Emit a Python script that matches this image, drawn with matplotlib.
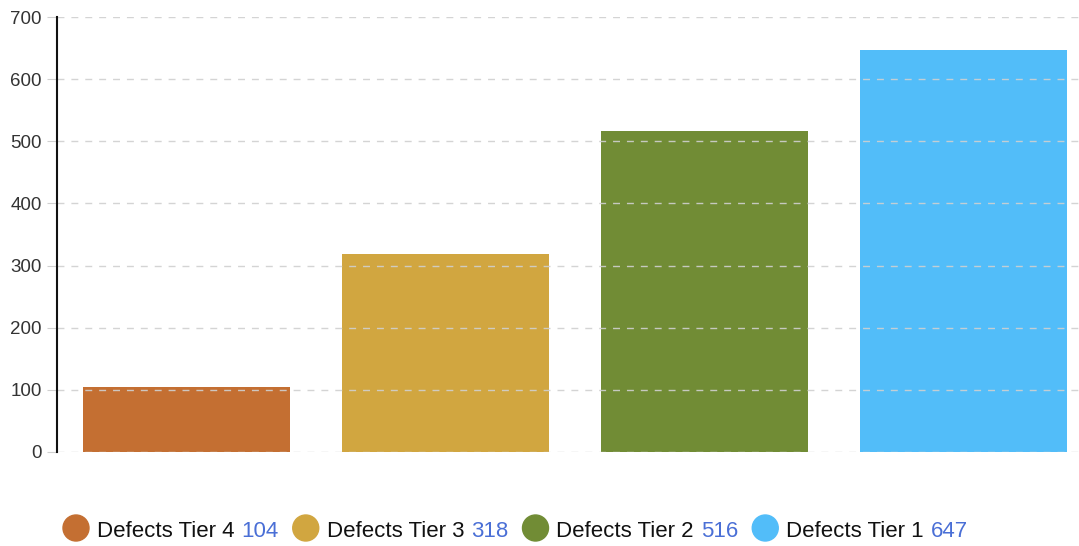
import matplotlib
matplotlib.use("Agg")
import matplotlib.pyplot as plt
from matplotlib.patches import Circle

plt.rcParams["font.family"] = ["Liberation Sans", "DejaVu Sans"]

labels = ["Defects Tier 4", "Defects Tier 3", "Defects Tier 2", "Defects Tier 1"]
values = [104, 318, 516, 647]
colors = ["#C46F32", "#D1A640", "#718C35", "#52BDF9"]

W, H, DPI = 1079, 546, 100
fig = plt.figure(figsize=(W / DPI, H / DPI), dpi=DPI)
ax = fig.add_axes([57 / W, (H - 452) / H, 1 - 57 / W, (452 - 17) / H])

x = list(range(len(values)))
ax.bar(x, values, width=0.8, color=colors, zorder=1)
ax.set_xlim(-0.5, 3.446)
ax.set_ylim(0, 700)
ax.set_yticks(range(0, 701, 100))
ax.set_xticks([])
for y in range(0, 701, 100):
    ax.axhline(y, color="#d0d0d0", lw=1, ls=(0, (5, 5)), zorder=3, alpha=0.9)
for s in ("top", "right", "bottom"):
    ax.spines[s].set_visible(False)
ax.spines["left"].set_linewidth(1.5)
ax.spines["left"].set_color("#111111")
ax.spines["left"].set_zorder(4)
ax.tick_params(axis="y", length=7, color="#d0d0d0", labelsize=13.5, labelcolor="#333333", pad=4)

# legend drawn along the bottom
fig.canvas.draw()
r = fig.canvas.get_renderer()
xpos = 63
ypos = (H - 529) / H
rad = 13
for lab, val, col in zip(labels, values, colors):
    fig.patches.append(Circle((xpos + rad, H - 528), rad, transform=None, color=col))
    xpos += 2 * rad + 8
    t = fig.text(xpos / W, ypos, lab, fontsize=16, color="#111111", va="center_baseline")
    xpos += t.get_window_extent(r).width + 7
    t2 = fig.text(xpos / W, ypos, str(val), fontsize=16, color="#4A6FD6", va="center_baseline")
    xpos += t2.get_window_extent(r).width + 14

fig.savefig("out.png", dpi=DPI)
